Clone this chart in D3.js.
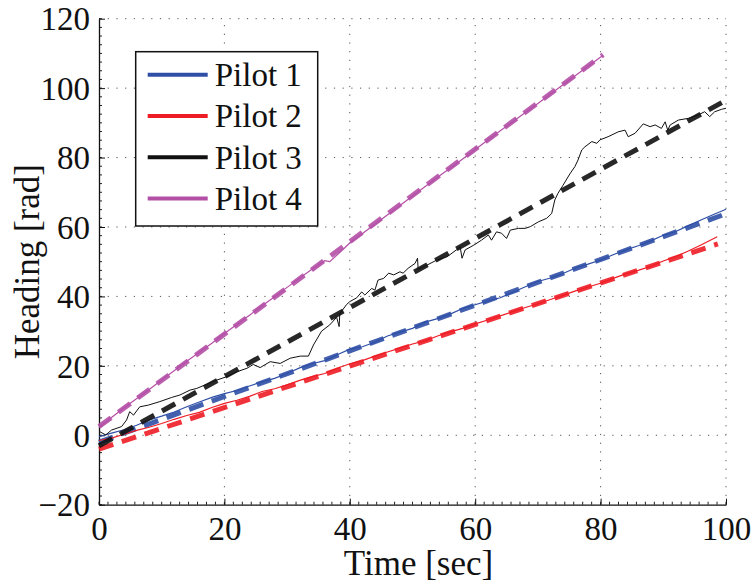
<!doctype html>
<html>
<head>
    <meta charset="utf8">
    <style>
        body { margin: 0; background: #fff; }
        text { font-family: "Liberation Serif", "Times New Roman", serif; fill: #111; }
        .grid line { stroke: #555; stroke-width: 1; stroke-dasharray: 1.2,7.5; }
    </style>
    <script src="https://d3js.org/d3.v7.min.js"></script>
</head>
<body>
<svg width="752" height="583"></svg>
<script>

    // data: [time sec, heading rad]
    var names = ["Pilot 1", "Pilot 2", "Pilot 3", "Pilot 4"];
    var colors = ["#2f4fa6", "#ee1c25", "#111111", "#b44fa6"];

    var pilot1 = [[0,-0.4],[2,0.6],[4,1.6],[6,2.9],[8,4.4],[10,5.5],[12,6.7],[14,8.2],[16,9.6],[18,10.9],
        [20,12.0],[22,12.9],[24,14.2],[26,15.4],[28,16.4],[30,17.8],[32,19.4],[34,20.6],[36,21.5],[38,23.2],
        [40,24.8],[42,25.5],[44,26.8],[46,28.6],[48,29.7],[50,30.8],[52,32.6],[54,33.6],[56,34.9],[58,36.5],
        [60,37.6],[62,38.7],[64,39.6],[66,41.2],[68,42.8],[70,44.3],[72,45.3],[74,46.6],[76,48.2],[78,49.3],
        [80,50.5],[82,52.0],[84,53.4],[86,54.6],[88,56.0],[90,57.6],[92,58.7],[94,60.4],[96,62.0],[98,63.6],[100,65.1]];

    var pilot2 = [[0,-1.5],[2,-0.8],[4,0.3],[6,1.4],[8,2.3],[10,3.4],[12,4.6],[14,5.7],[16,6.6],[18,8.0],
        [20,9.2],[22,10.1],[24,11.2],[26,12.6],[28,13.4],[30,14.5],[32,15.8],[34,16.9],[36,17.8],[38,19.3],
        [40,20.6],[42,21.5],[44,22.8],[46,24.0],[48,25.1],[50,26.3],[52,27.2],[54,28.6],[56,29.8],[58,30.8],
        [60,32.1],[62,33.2],[64,34.4],[66,35.6],[68,36.8],[70,37.9],[72,39.1],[74,40.3],[76,41.6],[78,42.7],
        [80,43.8],[82,45.2],[84,46.5],[86,47.5],[88,48.7],[90,50.2],[92,51.5],[94,53.1],[96,54.8],[98.6,57.2]];

    var pilot3 = [[0.16,1.0],[1.07,0.1],[2.0,1.5],[3.6,2.5],[4.4,4.4],[4.9,6.8],[5.5,5.8],[6.5,8.2],[7.9,8.7],
        [9.7,9.7],[11.6,10.9],[12.9,11.6],[14.5,13.0],[15.6,13.5],[16.9,14.5],[18.8,15.9],[20.4,16.9],[22.0,18.3],
        [23.6,19.3],[24.6,20.4],[25.7,19.5],[27.3,21.2],[28.9,20.7],[30.5,22.2],[32.1,22.8],[33.4,22.8],[34.2,26.0],
        [35.5,30.0],[36.8,31.8],[37.9,34.0],[38.3,31.3],[38.4,35.0],[39.5,37.7],[40.0,38.5],[41.1,39.6],[41.9,41.3],
        [42.4,40.4],[43.5,42.3],[44.0,41.8],[44.5,44.7],[45.4,45.2],[46.2,46.7],[47.0,46.2],[48.0,47.1],[48.5,46.7],
        [49.3,48.1],[50.4,49.5],[50.8,51.0],[50.9,47.8],[52.3,49.0],[53.9,50.5],[55.5,51.4],[57.0,53.4],[57.6,54.3],
        [57.9,51.0],[58.4,53.4],[59.8,54.8],[61.0,56.2],[62.1,57.7],[62.6,56.2],[63.4,58.6],[64.2,58.2],[65.0,56.7],
        [65.6,59.1],[66.9,59.6],[68.0,59.6],[68.8,60.1],[70.1,61.5],[71.4,62.5],[72.2,63.9],[72.7,67.8],[73.2,69.7],
        [74.0,72.0],[75.1,75.3],[75.9,77.4],[76.4,79.3],[77.0,82.2],[77.5,83.1],[78.6,84.6],[79.4,84.1],[79.9,85.1],
        [81.2,86.0],[82.8,87.4],[83.9,87.9],[84.4,86.0],[85.5,87.0],[86.8,89.7],[87.9,88.9],[88.7,89.4],[89.7,88.4],
        [90.3,90.3],[90.7,87.9],[91.1,89.4],[92.4,90.8],[94.0,91.3],[95.6,92.3],[96.6,93.2],[97.4,91.8],[98.2,93.2],
        [99.3,93.9],[100,94.2]];

    var pilot4 = [[0,2.3],[4,7.9],[8,13.2],[10,15.9],[14,21.3],[18,26.5],[20,29.3],[24,34.6],[28,39.9],[30,42.6],
        [34,47.9],[36,50.3],[36.8,50.0],[38,52.0],[40,55.4],[44,60.8],[48,66.2],[50,68.9],[54,74.3],[58,79.6],
        [60,82.3],[64,87.7],[68,93.0],[70,95.6],[74,101.0],[78,106.3],[80.4,109.5]];

    // linear fits (dashed): start value, end time, end value
    var fitStart = [-2, -4, -3, 2.5];
    var fitEndTime = [100, 98.7, 100, 80.4];
    var fitEnd = [63.8, 55.1, 96.5, 109.6];

    var xTicks = [0, 20, 40, 60, 80, 100];
    var yTicks = [-20, 0, 20, 40, 60, 80, 100, 120];

    var serif = "Liberation Serif";
    var svg = d3.select("svg");
    var pLeft = 99, pRight = 726, pTop = 18.7, pBottom = 504.7;

    var x = d3.scaleLinear().domain([0, 100]).range([pLeft, pRight]);
    var y = d3.scaleLinear().domain([-20, 120]).range([pBottom, pTop]);

    // grid
    var grid = svg.append("g").attr("class", "grid");
    grid.selectAll(".gx").data(xTicks.slice(1)).enter().append("line")
        .attr("x1", function(d) { return x(d); }).attr("x2", function(d) { return x(d); })
        .attr("y1", pBottom).attr("y2", pTop);
    grid.selectAll(".gy").data(yTicks.slice(1)).enter().append("line")
        .attr("y1", function(d) { return y(d); }).attr("y2", function(d) { return y(d); })
        .attr("x1", pLeft).attr("x2", pRight);

    // minor ticks (inside)
    var xMinor = d3.range(0, 100.01, 20 / 14);
    var yMinor = d3.range(-20, 120.01, 2.5);
    var ticks = svg.append("g").attr("stroke", "#222").attr("stroke-width", 1);
    ticks.selectAll(".mx").data(xMinor).enter().append("line")
        .attr("x1", function(d) { return x(d); }).attr("x2", function(d) { return x(d); })
        .attr("y1", pBottom).attr("y2", pBottom - 3);
    ticks.selectAll(".my").data(yMinor).enter().append("line")
        .attr("y1", function(d) { return y(d); }).attr("y2", function(d) { return y(d); })
        .attr("x1", pLeft).attr("x2", pLeft + 3);

    // axes with ticks pointing inward
    var fmt = function(d) { return d < 0 ? "\u2212" + Math.abs(d) : d; };
    var xAxis = svg.append("g")
        .attr("transform", "translate(0," + pBottom + ")")
        .call(d3.axisBottom(x).tickValues(xTicks).tickSizeInner(-6).tickSizeOuter(0).tickPadding(14).tickFormat(fmt));
    var yAxis = svg.append("g")
        .attr("transform", "translate(" + pLeft + ",0)")
        .call(d3.axisLeft(y).tickValues(yTicks).tickSizeInner(-6).tickSizeOuter(0).tickPadding(9).tickFormat(fmt));

    [xAxis, yAxis].forEach(function(a) {
        a.attr("font-family", serif);
        a.select(".domain").attr("stroke", "#111").attr("stroke-width", 1.3);
        a.selectAll(".tick line").attr("stroke", "#111");
        a.selectAll(".tick text")
         .attr("font-size", "33px")
         .attr("fill", "#111");
    });
    xAxis.selectAll(".tick text").attr("dy", "0.71em").attr("y", 12);
    yAxis.selectAll(".tick text").attr("dy", "0.34em");

    svg.append("text")
       .attr("x", (pLeft + pRight) / 2 + 6)
       .attr("y", 575)
       .attr("text-anchor", "middle")
       .attr("font-family", serif)
       .attr("font-size", "35px")
       .text("Time [sec]");

    svg.append("text")
       .attr("transform", "translate(39," + ((pTop + pBottom) / 2) + ") rotate(-90)")
       .attr("text-anchor", "middle")
       .attr("font-family", serif)
       .attr("font-size", "35px")
       .text("Heading [rad]");

    // series
    var line = d3.line().x(function(d) { return x(d[0]); }).y(function(d) { return y(d[1]); });
    var series = [pilot1, pilot2, pilot3, pilot4];
    var plot = svg.append("g");

    series.forEach(function(s, i) {
        plot.append("path")
            .datum(s)
            .attr("fill", "none")
            .attr("stroke", colors[i])
            .attr("stroke-width", i === 2 ? 1 : 1.2)
            .attr("d", line);

        plot.append("path")
            .datum([[0, fitStart[i]], [fitEndTime[i], fitEnd[i]]])
            .attr("fill", "none")
            .attr("stroke", colors[i])
            .attr("stroke-width", 5)
            .attr("stroke-dasharray", "15,9")
            .attr("opacity", 0.9)
            .attr("d", line);
    });

    // legend
    var legend = svg.append("g").attr("transform", "translate(135.7,51.7)");
    legend.append("rect")
          .attr("width", 182).attr("height", 174.3)
          .attr("fill", "#fff").attr("stroke", "#111").attr("stroke-width", 1.5);

    var rows = legend.selectAll(".row").data(names).enter().append("g")
          .attr("transform", function(d, i) { return "translate(0," + (23 + i * 41.3) + ")"; });
    rows.append("line")
        .attr("x1", 12).attr("x2", 72)
        .attr("stroke", function(d, i) { return colors[i]; })
        .attr("stroke-width", 4);
    rows.append("text")
        .attr("x", 79)
        .attr("dy", "0.34em")
        .attr("font-family", serif)
        .attr("font-size", "33px")
        .text(function(d) { return d; });

</script>
</body>
</html>
